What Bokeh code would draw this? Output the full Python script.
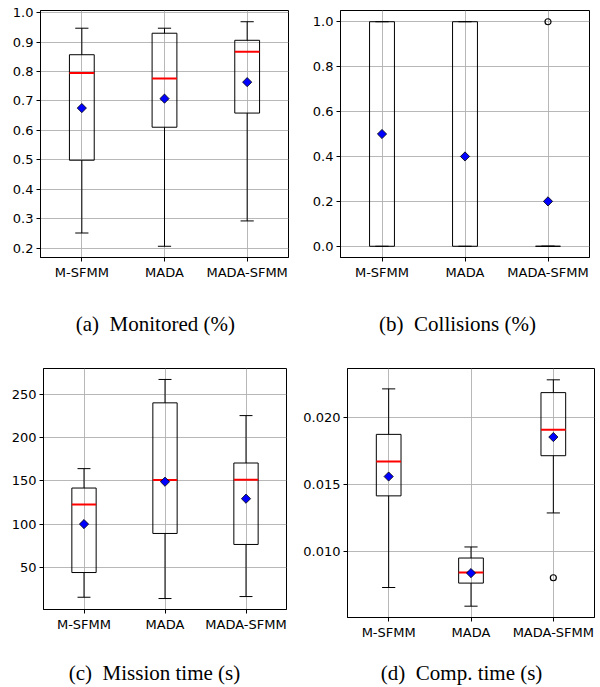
import numpy as np
from bokeh.plotting import figure
from bokeh.layouts import column, row
from bokeh.models import Range1d, FixedTicker, PrintfTickFormatter
from bokeh.core.properties import value
from bokeh.embed import file_html
from bokeh.resources import INLINE

# ---- data -------------------------------------------------------------
categories = ["M-SFMM", "MADA", "MADA-SFMM"]

# (a) monitored area fraction
monitored_whislo = [0.252, 0.207, 0.293]
monitored_q1 = [0.499, 0.611, 0.659]
monitored_median = [0.795, 0.776, 0.867]
monitored_q3 = [0.857, 0.930, 0.906]
monitored_whishi = [0.947, 0.947, 0.969]
monitored_mean = [0.676, 0.708, 0.764]
monitored_outliers = [[], [], []]

# (b) collisions
collisions_whislo = [0.0, 0.0, 0.0]
collisions_q1 = [0.0, 0.0, 0.0]
collisions_median = [None, None, None]
collisions_q3 = [1.0, 1.0, 0.0]
collisions_whishi = [1.0, 1.0, 0.0]
collisions_mean = [0.5, 0.4, 0.2]
collisions_outliers = [[], [], [1.0]]

# (c) mission time in seconds
mission_whislo = [15.7, 14.2, 16.5]
mission_q1 = [44.2, 89.3, 76.6]
mission_median = [122.8, 151.0, 151.3]
mission_q3 = [141.7, 240.0, 170.6]
mission_whishi = [164.1, 267.0, 225.3]
mission_mean = [100.1, 149.0, 129.4]
mission_outliers = [[], [], []]

# (d) computation time in seconds
comp_whislo = [0.00729, 0.00589, 0.01288]
comp_q1 = [0.01416, 0.00762, 0.01717]
comp_median = [0.01674, 0.00842, 0.01912]
comp_q3 = [0.01877, 0.00950, 0.02190]
comp_whishi = [0.02218, 0.01033, 0.02286]
comp_mean = [0.01561, 0.00837, 0.01857]
comp_outliers = [[], [], [0.00802]]

monitored_ticks = [0.2, 0.3, 0.4, 0.5, 0.6, 0.7, 0.8, 0.9, 1.0]
collisions_ticks = [0.0, 0.2, 0.4, 0.6, 0.8, 1.0]
mission_ticks = [50, 100, 150, 200, 250]
comp_ticks = [0.010, 0.015, 0.020]

captions = ["(a)\u00a0\u00a0Monitored (%)", "(b)\u00a0\u00a0Collisions (%)",
            "(c)\u00a0\u00a0Mission time (s)", "(d)\u00a0\u00a0Comp. time (s)"]

# ---- styling ----------------------------------------------------------
BOX_W = 0.30
CAP_W = 0.16
TICK_FONT = "DejaVu Sans"
CAPTION_FONT = "Liberation Serif"
GRID = "#b0b0b0"


def boxplot_panel(whislo, q1, med, q3, whishi, mean, outliers, ticks, fmt,
                  frame, borders):
    fw, fh = frame
    left, right, top, bottom = borders
    xs = np.arange(1, len(categories) + 1, dtype=float)

    lo_all = min(whislo + [v for o in outliers for v in o])
    hi_all = max(whishi + [v for o in outliers for v in o])
    pad = 0.05 * (hi_all - lo_all)

    p = figure(frame_width=fw, frame_height=fh,
               min_border_left=left, min_border_right=right,
               min_border_top=top, min_border_bottom=bottom,
               x_range=Range1d(0.5, 3.5),
               y_range=Range1d(lo_all - pad, hi_all + pad),
               output_backend="svg", toolbar_location=None,
               background_fill_color="white", border_fill_color="white")

    p.outline_line_color = "black"
    p.outline_line_width = 1
    p.grid.grid_line_color = GRID
    p.grid.grid_line_width = 1
    p.grid.grid_line_alpha = 0.9

    p.xaxis.ticker = FixedTicker(ticks=list(xs))
    p.xaxis.major_label_overrides = {float(x): c for x, c in zip(xs, categories)}
    p.yaxis.ticker = FixedTicker(ticks=ticks)
    p.yaxis.formatter = PrintfTickFormatter(format=fmt)
    for ax in (p.xaxis, p.yaxis):
        ax.major_tick_out = 4
        ax.major_tick_in = 0
        ax.minor_tick_line_color = None
        ax.axis_line_color = "black"
        ax.major_tick_line_color = "black"
        ax.major_label_text_font = TICK_FONT
        ax.major_label_text_font_size = "13px"
        ax.major_label_text_color = "black"
        ax.major_label_standoff = 3

    # whiskers
    p.segment(x0=xs, y0=whislo, x1=xs, y1=q1, line_color="black", line_width=1)
    p.segment(x0=xs, y0=q3, x1=xs, y1=whishi, line_color="black", line_width=1)
    # caps
    p.segment(x0=xs - CAP_W / 2, y0=whislo, x1=xs + CAP_W / 2, y1=whislo,
              line_color="black", line_width=1)
    p.segment(x0=xs - CAP_W / 2, y0=whishi, x1=xs + CAP_W / 2, y1=whishi,
              line_color="black", line_width=1)
    # boxes
    p.quad(left=xs - BOX_W / 2, right=xs + BOX_W / 2, bottom=q1, top=q3,
           fill_color=None, line_color="black", line_width=1)
    # medians
    mx = [x for x, m in zip(xs, med) if m is not None]
    my = [m for m in med if m is not None]
    if my:
        p.segment(x0=[x - BOX_W / 2 for x in mx], y0=my,
                  x1=[x + BOX_W / 2 for x in mx], y1=my,
                  line_color="#ff0000", line_width=2)
    # outliers
    ox = [x for x, o in zip(xs, outliers) for _ in o]
    oy = [v for o in outliers for v in o]
    if oy:
        p.scatter(ox, oy, marker="circle", size=6, fill_color=None,
                  line_color="black", line_width=1.2)
    # means
    p.scatter(xs, mean, marker="square", angle=np.pi / 4, size=6.5,
              fill_color="#0000ff", line_color="black", line_width=0.8)
    return p


def caption_strip(text, height, cx, cy_from_top):
    """A blank strip holding one sub-figure caption, laid out in pixels."""
    c = figure(width=300, height=height, x_range=Range1d(0, 300),
               y_range=Range1d(0, height), x_axis_type=None, y_axis_type=None,
               min_border=0, output_backend="svg", toolbar_location=None,
               background_fill_color="white", border_fill_color="white")
    c.outline_line_color = None
    c.grid.visible = False
    c.text(x=[cx], y=[height - cy_from_top], text=[text],
           text_align="center", text_baseline="middle",
           text_font=value(CAPTION_FONT), text_font_size="21px",
           text_color="black")
    return c


pa = boxplot_panel(monitored_whislo, monitored_q1, monitored_median, monitored_q3,
                   monitored_whishi, monitored_mean, monitored_outliers,
                   monitored_ticks, "%.1f", (248, 247), (40, 12, 10, 43))
pb = boxplot_panel(collisions_whislo, collisions_q1, collisions_median, collisions_q3,
                   collisions_whishi, collisions_mean, collisions_outliers,
                   collisions_ticks, "%.1f", (249, 247), (40, 11, 10, 43))
pc = boxplot_panel(mission_whislo, mission_q1, mission_median, mission_q3,
                   mission_whishi, mission_mean, mission_outliers,
                   mission_ticks, "%d", (243, 241), (43, 14, 28, 41))
pd_ = boxplot_panel(comp_whislo, comp_q1, comp_median, comp_q3,
                    comp_whishi, comp_mean, comp_outliers,
                    comp_ticks, "%.3f", (247, 249), (44, 5, 28, 33))

ca = caption_strip(captions[0], 40, 139, 23)
cb = caption_strip(captions[1], 40, 141, 23)
cc = caption_strip(captions[2], 37, 137, 22)
cd = caption_strip(captions[3], 37, 138, 22)

layout = column(
    row(column(pa, ca, spacing=0), column(pb, cb, spacing=0), spacing=0),
    row(column(pc, cc, spacing=0), column(pd_, cd, spacing=0), spacing=0),
    spacing=0)

with open("out.html", "w") as f:
    f.write(file_html(layout, INLINE))
